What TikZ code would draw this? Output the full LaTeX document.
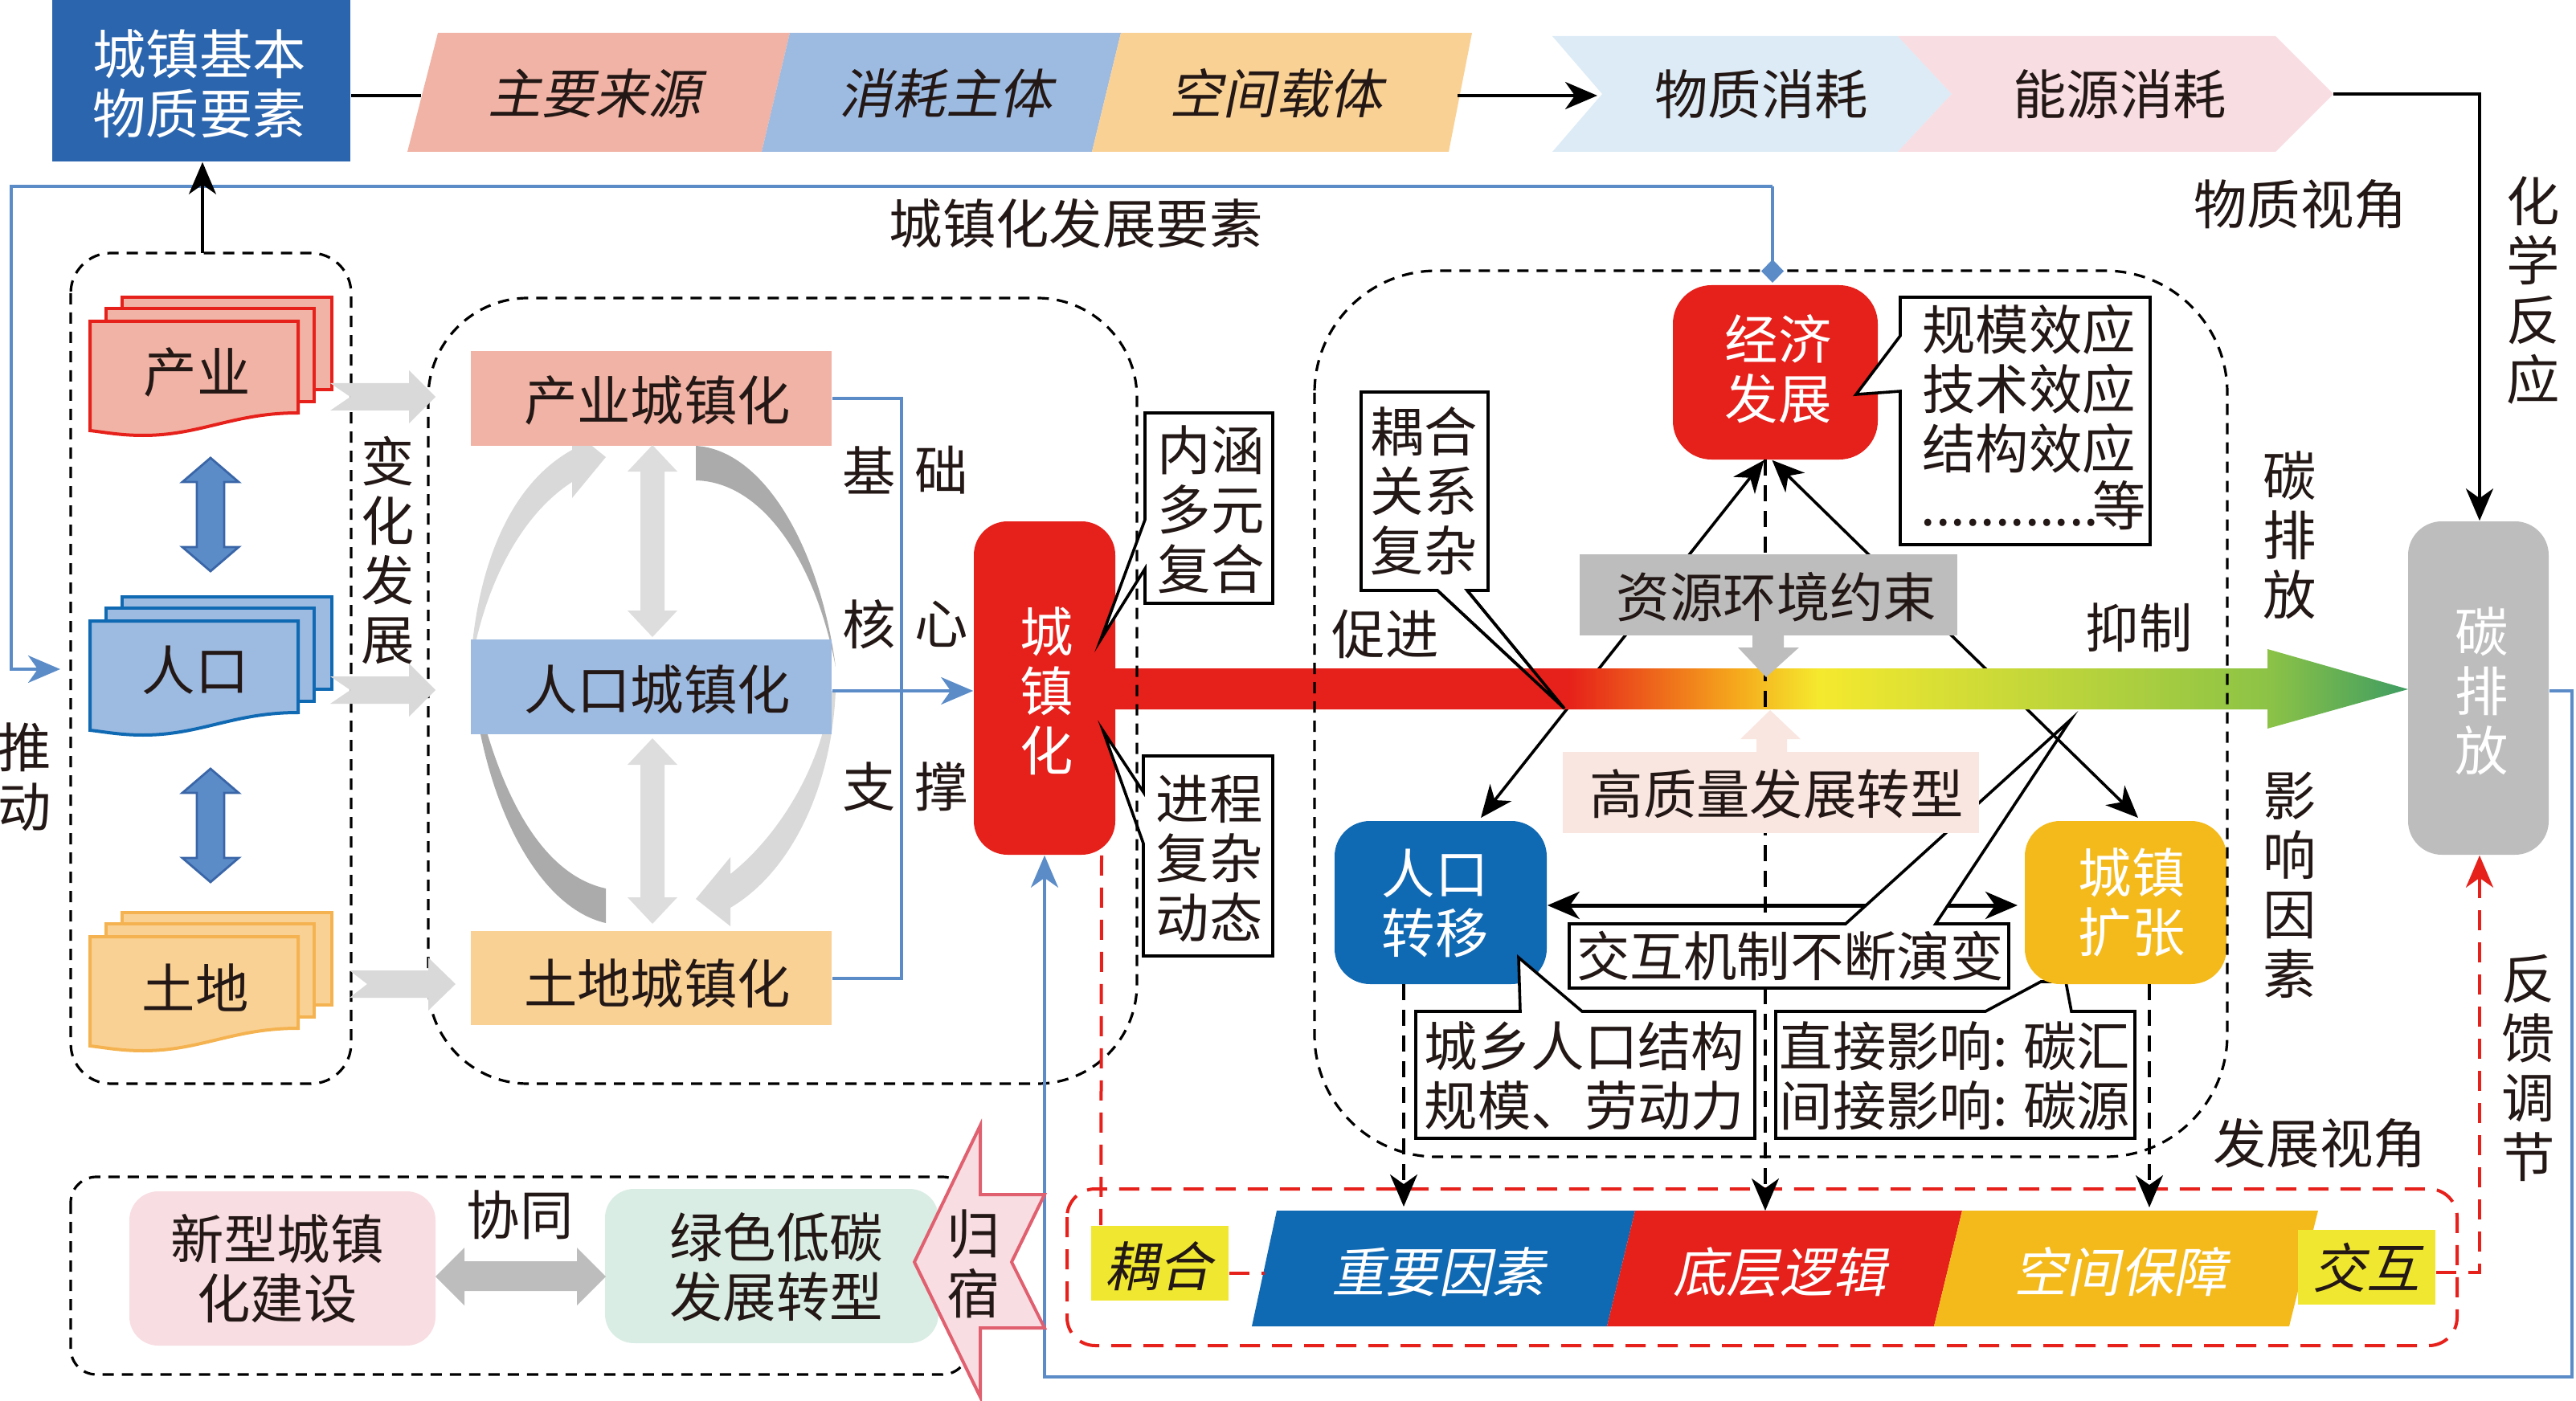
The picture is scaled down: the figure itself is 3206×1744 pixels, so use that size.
\documentclass[tikz,border=0pt]{standalone}
\usepackage{fontspec}
\setmainfont{Noto Sans CJK SC}
\newfontfamily\slantcjk[FakeSlant=0.2]{Noto Sans CJK SC}
\usetikzlibrary{arrows.meta}
\definecolor{inkc}{RGB}{35,24,21}
\definecolor{navy1}{RGB}{43,101,174}
\definecolor{indfill}{RGB}{241,179,165}
\definecolor{popfill}{RGB}{157,186,224}
\definecolor{landfill}{RGB}{250,209,149}
\definecolor{red1}{RGB}{230,32,26}
\definecolor{blue1}{RGB}{16,105,179}
\definecolor{amber1}{RGB}{244,186,27}
\definecolor{landline}{RGB}{244,179,80}
\definecolor{link1}{RGB}{91,140,200}
\definecolor{link2}{RGB}{58,102,168}
\definecolor{pale1}{RGB}{220,235,246}
\definecolor{pale2}{RGB}{248,221,226}
\definecolor{pale3}{RGB}{249,230,225}
\definecolor{mint1}{RGB}{218,237,228}
\definecolor{gray1}{RGB}{189,189,189}
\definecolor{gray2}{RGB}{217,217,217}
\definecolor{gray3}{RGB}{171,171,171}
\definecolor{yellow1}{RGB}{240,232,48}
\definecolor{rose1}{RGB}{224,96,111}
\definecolor{flow1}{RGB}{245,168,28}
\definecolor{flow2}{RGB}{245,233,46}
\definecolor{flow3}{RGB}{140,195,70}
\definecolor{flow4}{RGB}{62,156,98}
\pgfdeclarehorizontalshading{flowshade}{100bp}{color(0bp)=(red1); color(42.5bp)=(red1); color(49bp)=(flow1); color(52.2bp)=(flow2); color(69.6bp)=(flow3); color(75bp)=(flow4); color(100bp)=(flow4)}
\tikzset{
  lbl/.style={font=\fontsize{16.6}{18.5}\selectfont, align=center, inner sep=0pt, text=inkc},
  slab/.style={lbl, font=\fontsize{16.6}{18.5}\selectfont\slantcjk},
  wlbl/.style={lbl, text=white},
  rbox/.style={inner sep=0pt, rounded corners=10.5pt, minimum width=#1},
  sqbox/.style={inner sep=0pt, minimum width=#1},
  callout/.style={draw=black, fill=white, line width=0.9pt, miter limit=10},
  group/.style={draw=black, line width=0.8pt, dash pattern=on 3.5pt off 2.5pt},
  reddash/.style={draw=red1, line width=1pt, dash pattern=on 6.25pt off 3.75pt},
  blkdash/.style={draw=black, line width=0.8pt, dash pattern=on 5pt off 3pt},
  bluelink/.style={draw=link1, line width=1pt},
  conn/.style={draw=black, line width=0.9pt},
  tip/.style={-{Stealth[length=10pt,width=8.5pt,inset=3pt]}},
  bitip/.style={{Stealth[length=10pt,width=8.5pt,inset=3pt]}-{Stealth[length=10pt,width=8.5pt,inset=3pt]}}
}

\begin{document}
\begin{tikzpicture}[x=0.25pt,y=-0.25pt]
\useasboundingbox (0,0) rectangle (3206,1744);

% Top row: material elements
\node[sqbox=92.75pt, fill=navy1, minimum height=50.25pt] (basebox) at (250.5,100.5) {};
\node[wlbl] (basetext) at (248,104) {城镇基本\\物质要素};
\coordinate (barL) at (524,119);
\draw[conn] (basebox.east |- barL) -- (barL);
\fill[indfill] (507,189) -- (545,41) -- (983,41) -- (948,189) -- cycle;
\fill[popfill] (948,189) -- (983,41) -- (1395,41) -- (1359,189) -- cycle;
\fill[landfill] (1359,189) -- (1395,41) -- (1832,41) -- (1803,189) -- cycle;
\node[slab] (srcpara) at (740,116) {主要来源};
\node[slab] (usepara) at (1177,116) {消耗主体};
\node[slab] (spacepara) at (1588,116) {空间载体};
\fill[pale1] (1932,45) -- (2362,45) -- (2429,117) -- (2362,189) -- (1932,189) -- (1994,117) -- cycle;
\fill[pale2] (2362,45) -- (2832,45) -- (2904,117) -- (2832,189) -- (2362,189) -- (2429,117) -- cycle;
\node[lbl] (matchev) at (2192,117) {物质消耗};
\node[lbl] (enechev) at (2638,117) {能源消耗};
\coordinate (barR) at (1814,119);
\coordinate (chevL) at (1988,119);
\draw[conn, tip] (barR) -- (chevL);

% Carbon box and the links into it
\node[rbox=43.75pt, fill=gray1, minimum height=103.75pt] (carbonbox) at (3084.5,856.5) {};
\node[wlbl] (carbontext) at (3089,860) {碳\\排\\放};
\coordinate (chevR) at (2904,117);
\draw[conn, tip] (chevR) -- (3086,117) -- (3086,0 |- carbonbox.north);
\node[lbl] (matview) at (2863,254) {物质视角};
\node[lbl] (chemlbl) at (3153,362) {化\\学\\反\\应};
\node[lbl] (carblbl) at (2850,666) {碳\\排\\放};
\node[lbl] (restrain) at (2662,781) {抑制};
\node[lbl] (promote) at (1724,789) {促进};
\node[lbl] (factlbl) at (2850,1102) {影\\响\\因\\素};
\node[lbl] (devview) at (2887,1423) {发展视角};
\node[lbl] (backlbl) at (3147,1329) {反\\馈\\调\\节};

% Urbanisation hub, callouts beside it
\node[rbox=44pt, fill=red1, minimum height=103.75pt] (cityhub) at (1300,856.5) {};
\node[wlbl] (cityhubtext) at (1303,860) {城\\镇\\化};
\draw[callout] (1425,514) -- (1584,514) -- (1584,751) -- (1425,751) -- (1425,708) -- (1370,796) -- (1425,647) -- cycle;
\node[lbl] (meanbox) at (1507,634) {内涵\\多元\\复合};
\draw[callout] (1423,941) -- (1584,941) -- (1584,1190) -- (1423,1190) -- (1423,1050) -- (1373,910) -- (1423,986) -- cycle;
\node[lbl] (procbox) at (1505,1069) {进程\\复杂\\动态};

% Right group: boxes
\node[rbox=63.75pt, fill=red1, minimum height=54.25pt, rounded corners=12pt] (ecobox) at (2209.5,463.5) {};
\node[wlbl] (ecotext) at (2213,459) {经济\\发展};
\node[rbox=66pt, fill=blue1, minimum height=50.75pt, rounded corners=11pt] (popmove) at (1793,1123.5) {};
\node[wlbl] (popmovetext) at (1786,1124) {人口\\转移};
\draw[callout] (2210,1259) -- (2471,1259) -- (2540,1222) -- (2571,1222) -- (2578,1259) -- (2657,1259) -- (2657,1417) -- (2210,1417) -- cycle;
\node[rbox=62.75pt, fill=amber1, minimum height=50.75pt, rounded corners=11pt] (townbox) at (2645.5,1123.5) {};
\node[wlbl] (towntext) at (2653,1123) {城镇\\扩张};
\node[lbl] (directbox) at (2433,1339) {直接影响: 碳汇\\间接影响: 碳源};
\draw[callout] (1762,1259) -- (1892,1259) -- (1890,1192) -- (1969,1259) -- (2184,1259) -- (2184,1417) -- (1762,1417) -- cycle;
\node[lbl] (ruralbox) at (1972,1339) {城乡人口结构\\规模、劳动力};
\draw[callout] (2365,370) -- (2676,370) -- (2676,678) -- (2365,678) -- (2365,487) -- (2310,491) -- (2365,418) -- cycle;
\node[lbl] (effectbox) at (2525,484) {规模效应\\技术效应\\结构效应};
\node[lbl, anchor=west] (dotsbox) at (2390,651) {............};
\node[lbl] (etcbox) at (2638,629) {等};
\draw[callout] (1694,488) -- (1852,488) -- (1852,735) -- (1826,735) -- (1947,882) -- (1789,735) -- (1694,735) -- cycle;
\node[lbl] (cplbox) at (1772,611) {耦合\\关系\\复杂};

% Interaction arrow and its callout
\draw[conn, line width=1.25pt, bitip] (popmove.east |- 0,1127) -- (2511,1127);
\draw[callout] (1953,1150) -- (2297,1150) -- (2577,896) -- (2409,1150) -- (2500,1150) -- (2500,1230) -- (1953,1230) -- cycle;
\node[lbl] (mechbox) at (2228,1190) {交互机制不断演变};

% Diagonal arrows, under the flow arrow
\coordinate (ecoL) at ([xshift=-3.5pt]ecobox.south);
\coordinate (ecoR) at ([xshift=-1pt]ecobox.south);
\coordinate (popT) at (1843,1018);
\coordinate (townT) at (2661,1018);
\draw[conn, bitip] (popT) -- (ecoL);
\draw[conn, bitip] (townT) -- (ecoR);

% Flow arrow
\shade[shading=flowshade] (1388,832) -- (2822,832) -- (2822,808) -- (2997,858) -- (2822,907) -- (2822,883) -- (1388,883) -- cycle;
\draw[callout, fill=none] (1826,735) -- (1947,882) -- (1789,735);

% Dashed groups
\draw[group, rounded corners=12.5pt] (88,315) rectangle (437,1349);
\draw[group, rounded corners=31pt] (533,371) rectangle (1415,1349);
\draw[group, rounded corners=38pt] (1636,337) rectangle (2772,1440);
\draw[group, rounded corners=8pt] (88,1465) rectangle (1205,1711);

% Blue links
\coordinate (cityL) at (75,833);
\coordinate (ecoT) at (2206,352);
\draw[bluelink, -{Stealth[length=10pt,width=8.5pt,inset=3pt]}] (2206,232) -- (14,232) -- (14,833) -- (cityL);
\draw[bluelink, -{Diamond[length=7.25pt,width=7pt]}] (2206,232) -- (ecoT);
\node[lbl] (urbanlbl) at (1339,278) {城镇化发展要素};
\coordinate (groupT) at (252,315);
\draw[conn, tip] (groupT) -- (basebox.south -| groupT);

% Stacked sheets
\foreach \dy/\fc/\dc in {0/indfill/red1, 373/popfill/blue1, 766/landfill/landline}{
  \draw[fill=\fc, draw=\dc, line width=1pt] (152,370+\dy) rectangle (413,485+\dy);
  \draw[fill=\fc, draw=\dc, line width=1pt] (132,384+\dy) rectangle (391,500+\dy);
  \draw[fill=\fc, draw=\dc, line width=1pt] (112,400+\dy) -- (371,400+\dy) -- (371,514+\dy) .. controls (290,514+\dy) and (250,542+\dy) .. (178,542+\dy) .. controls (150,542+\dy) and (130,538+\dy) .. (112,536+\dy) -- cycle;
}
\node[lbl] (indsheet) at (245,463) {产业};
\node[lbl] (popsheet) at (243,834) {人口};
\node[lbl] (landsheet) at (243,1229) {土地};

% Double arrows between sheets
\foreach \yt/\yb in {570/711,957/1098}
  \draw[fill=link1, draw=link2, line width=0.7pt] (262,\yt) -- (297,\yt+30) -- (279,\yt+30) -- (279,\yb-30) -- (297,\yb-30) -- (262,\yb) -- (227,\yb-30) -- (245,\yb-30) -- (245,\yt+30) -- (227,\yt+30) -- cycle;

% Grey block arrows
\foreach \yc/\xa/\xb/\xc/\xd in {494/411/436/509/542, 859/411/436/509/542, 1225/435/457/533/567}
  \fill[gray2] (\xa,\yc-17) -- (\xc,\yc-17) -- (\xc,\yc-33) -- (\xd,\yc) -- (\xc,\yc+33) -- (\xc,\yc+17) -- (\xa,\yc+17) -- (\xb,\yc) -- cycle;
\node[lbl] (changelbl) at (483,685) {变\\化\\发\\展};

% Crescents round the middle box
\fill[gray2] (588,800) .. controls (600,690) and (640,600) .. (712,560) -- (712,535) -- (754,569) -- (712,620) -- (712,600) .. controls (650,640) and (610,720) .. (592,800) -- cycle;
\fill[gray3] (866,555) .. controls (950,560) and (1020,680) .. (1040,830) .. controls (1015,700) and (950,600) .. (866,598) -- cycle;
\fill[gray3] (586,830) .. controls (600,1000) and (670,1130) .. (754,1149) -- (754,1106) .. controls (680,1090) and (620,1000) .. (586,830) -- cycle;
\fill[gray2] (1040,860) .. controls (1035,980) and (985,1085) .. (909,1130) -- (909,1153) -- (866,1119) -- (909,1067) -- (909,1088) .. controls (970,1040) and (1025,950) .. (1034,860) -- cycle;

% Urbanisation boxes
\node[sqbox=112.25pt, fill=indfill, minimum height=29.5pt] (indbox) at (810.5,496) {};
\node[sqbox=112.25pt, fill=popfill, minimum height=29.5pt] (popbox) at (810.5,855) {};
\node[sqbox=112.25pt, fill=landfill, minimum height=29.25pt] (landbox) at (810.5,1217.5) {};
\node[lbl] (indtext) at (818,498) {产业城镇化};
\node[lbl] (poptext) at (818,858) {人口城镇化};
\node[lbl] (landtext) at (818,1224) {土地城镇化};
\foreach \yt/\yb in {554/793,919/1150}
  \fill[gray2!90] (812,\yt) -- (843,\yt+33) -- (827,\yt+33) -- (827,\yb-33) -- (843,\yb-33) -- (812,\yb) -- (781,\yb-33) -- (797,\yb-33) -- (797,\yt+33) -- (781,\yt+33) -- cycle;
\coordinate (busX) at (1122,860);
\draw[bluelink] (indbox.east) -- (busX |- indbox.east) -- (busX |- landbox.east) -- (landbox.east);
\draw[bluelink, tip] (popbox.east |- busX) -- (cityhub.west |- busX);
\node[lbl] (basel) at (1082,585) {基};
\node[lbl] (baser) at (1172,585) {础};
\node[lbl] (corel) at (1082,777) {核};
\node[lbl] (corer) at (1172,777) {心};
\node[lbl] (supl) at (1082,979) {支};
\node[lbl] (supr) at (1172,979) {撑};
\node[lbl] (pushlbl) at (31,967) {推\\动};

% Bottom bar
\fill[blue1] (1558,1651) -- (1589,1507) -- (2035,1507) -- (2000,1651) -- cycle;
\fill[red1] (2000,1651) -- (2035,1507) -- (2442,1507) -- (2407,1651) -- cycle;
\fill[amber1] (2407,1651) -- (2442,1507) -- (2885,1507) -- (2849,1651) -- cycle;
\node[slab, text=white] (keypara) at (1790,1583) {重要因素};
\node[slab, text=white] (logicpara) at (2215,1583) {底层逻辑};
\node[slab, text=white] (guardpara) at (2639,1583) {空间保障};
\node[sqbox=42.75pt, fill=yellow1, minimum height=23.25pt] (couplebox) at (1443.5,1572.5) {};
\node[sqbox=42.75pt, fill=yellow1, minimum height=23.25pt] (linkbox) at (2945.5,1577.5) {};
\node[slab] (coupletext) at (1442,1576) {耦合};
\node[slab] (linktext) at (2945,1578) {交互};
\draw[reddash, rounded corners=8.75pt] (1328,1480) rectangle (3058,1675);

% Dashed links to the bottom bar
\coordinate (midT) at (2197,1150);
\coordinate (midB) at (2197,1230);
\draw[blkdash, tip] (1747,1225) -- (1747,1502);
\draw[blkdash] (2197,572) -- (midT);
\draw[blkdash, tip] (midB) -- (2197,1507);
\draw[blkdash, tip] (2675,1225) -- (2675,1503);

% Constraint and transition boxes
\fill[gray1] (2181,791) -- (2220,791) -- (2220,806) -- (2239,806) -- (2198,843) -- (2163,806) -- (2181,806) -- cycle;
\fill[pale3] (2186,936) -- (2224,936) -- (2224,920) -- (2241,920) -- (2203,884) -- (2166,920) -- (2186,920) -- cycle;
\node[sqbox=117.5pt, fill=gray1, minimum height=25.25pt] (resbox) at (2201,740.5) {};
\node[sqbox=129.5pt, fill=pale3, minimum height=25.25pt] (hqbox) at (2204,986.5) {};
\node[lbl] (restext) at (2211,743) {资源环境约束};
\node[lbl] (hqtext) at (2211,988) {高质量发展转型};

% Feedback links
\coordinate (fbC) at (3086,1584);
\coordinate (loopB) at (1300,1714);
\draw[reddash, tip] (linkbox.east |- fbC) -- (fbC) -- (3086,0 |- carbonbox.south);
\draw[reddash] ([xshift=17.75pt]cityhub.south) -- ([xshift=3.25pt]couplebox.north west);
\draw[reddash] (couplebox.east |- 0,1585) -- (1574,1585);
\draw[bluelink, tip] (carbonbox.east |- 0,860) -- (3201,860) -- (3201,1714) -- (loopB) -- (cityhub.south);

% Bottom-left group
\node[rbox=95.25pt, fill=pale2, rounded corners=9pt, minimum height=48pt] (newbox) at (351.5,1579) {};
\node[rbox=103.75pt, fill=mint1, rounded corners=9pt, minimum height=48pt] (greenbox) at (960.5,1576) {};
\node[lbl] (newtext) at (345,1579) {新型城镇\\化建设};
\node[lbl] (greentext) at (966,1577) {绿色低碳\\发展转型};
\node[lbl] (synlbl) at (647,1512) {协同};
\fill[gray1] (542,1589) -- (578,1553) -- (578,1570) -- (718,1570) -- (718,1553) -- (754,1589) -- (718,1625) -- (718,1607) -- (578,1607) -- (578,1625) -- cycle;
\draw[fill=pale2, draw=rose1, line width=1pt] (1138,1571) -- (1220,1401) -- (1220,1487) -- (1300,1487) -- (1259,1571) -- (1300,1653) -- (1220,1653) -- (1220,1739) -- cycle;
\node[lbl] (homelbl) at (1212,1573) {归\\宿};

\end{tikzpicture}
\end{document}
